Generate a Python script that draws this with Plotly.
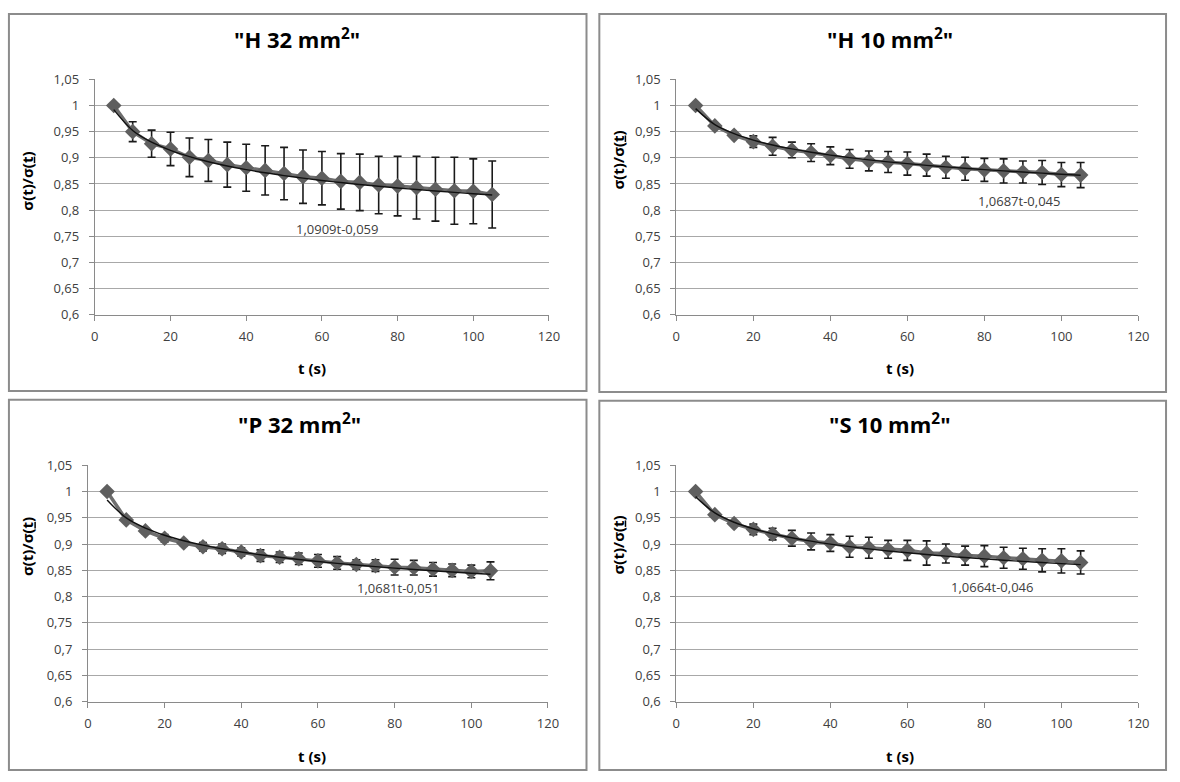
import plotly.graph_objects as go

# ---------------- data ----------------
t = [5, 10, 15, 20, 25, 30, 35, 40, 45, 50, 55, 60, 65, 70, 75, 80, 85, 90, 95, 100, 105]

h32_mean = [1.0, 0.950, 0.927, 0.917, 0.901, 0.895, 0.887, 0.881, 0.876, 0.870, 0.864,
            0.861, 0.855, 0.853, 0.848, 0.846, 0.843, 0.840, 0.837, 0.836, 0.830]
h32_err = [0.0, 0.019, 0.026, 0.032, 0.037, 0.040, 0.043, 0.045, 0.047, 0.050, 0.051,
           0.051, 0.053, 0.054, 0.055, 0.057, 0.060, 0.061, 0.064, 0.062, 0.064]

h10_mean = [1.0, 0.961, 0.943, 0.931, 0.922, 0.915, 0.910, 0.904, 0.898, 0.894, 0.892,
            0.889, 0.886, 0.882, 0.879, 0.877, 0.875, 0.873, 0.872, 0.868, 0.867]
h10_err = [0.0, 0.004, 0.005, 0.011, 0.017, 0.015, 0.017, 0.017, 0.018, 0.019, 0.020,
           0.022, 0.021, 0.021, 0.022, 0.022, 0.023, 0.021, 0.023, 0.023, 0.024]

p32_mean = [1.0, 0.946, 0.925, 0.911, 0.902, 0.895, 0.891, 0.885, 0.878, 0.875, 0.872,
            0.868, 0.864, 0.861, 0.859, 0.856, 0.855, 0.852, 0.850, 0.848, 0.849]
p32_err = [0.0, 0.004, 0.005, 0.007, 0.005, 0.008, 0.009, 0.008, 0.011, 0.010, 0.011,
           0.012, 0.012, 0.009, 0.011, 0.015, 0.014, 0.013, 0.012, 0.012, 0.017]

s10_mean = [1.0, 0.956, 0.939, 0.928, 0.919, 0.911, 0.905, 0.902, 0.895, 0.893, 0.890,
            0.888, 0.883, 0.882, 0.878, 0.877, 0.874, 0.872, 0.869, 0.868, 0.865]
s10_err = [0.0, 0.004, 0.005, 0.010, 0.011, 0.015, 0.016, 0.016, 0.020, 0.020, 0.017,
           0.019, 0.023, 0.018, 0.018, 0.020, 0.020, 0.020, 0.022, 0.023, 0.022]

titles = ['"H 32 mm<sup>2</sup>"', '"H 10 mm<sup>2</sup>"',
          '"P 32 mm<sup>2</sup>"', '"S 10 mm<sup>2</sup>"']

# power trendlines y = a * t^b (coefficients printed on the chart)
fit_a = [1.0909, 1.0687, 1.0681, 1.0664]
fit_b = [-0.059, -0.045, -0.051, -0.046]
fit_labels = ["1,0909t-0,059", "1,0687t-0,045", "1,0681t-0,051", "1,0664t-0,046"]
fit_label_x = [64, 89, 81, 82]
fit_label_y = [0.764, 0.817, 0.816, 0.819]

y_tickvals = [0.6, 0.65, 0.7, 0.75, 0.8, 0.85, 0.9, 0.95, 1.0, 1.05]
y_ticktext = ["0,6", "0,65", "0,7", "0,75", "0,8", "0,85", "0,9", "0,95", "1", "1,05"]
x_tickvals = [0, 20, 40, 60, 80, 100, 120]
x_ticktext = ["0", "20", "40", "60", "80", "100", "120"]

x_title = "t (s)"
y_title = "σ(t)/σ(<u>t</u>)"

means = [h32_mean, h10_mean, p32_mean, s10_mean]
errs = [h32_err, h10_err, p32_err, s10_err]

# ---------------- layout geometry (pixels) ----------------
W, H = 1180, 782
plot_px = [(92, 552, 72, 313), (681, 1149, 72, 313), (85, 551, 467, 709), (681, 1149, 467, 709)]
box_px = [(5, 590, 5, 391), (603, 1177, 5, 392), (5, 590, 400, 779), (603, 1177, 401, 779)]
title_px = [(297, 30), (897, 30), (299, 424), (897, 424)]
xtitle_px = [(312, 367), (908, 367), (312, 765), (908, 765)]
ytitle_px = [(23, 176), (622, 155), (24, 550), (622, 549)]

FONT = "Open Sans"
TXT = "#404040"


def px(x):
    return x / W


def py(y):
    return 1 - y / H


fig = go.Figure()
shapes = []
annotations = []

for i in range(4):
    sfx = "" if i == 0 else str(i + 1)
    xa, ya = "x" + sfx, "y" + sfx
    # data series with error bars
    fig.add_trace(go.Scatter(
        x=t, y=means[i], mode="lines+markers", xaxis=xa, yaxis=ya,
        line=dict(color="#6e6e6e", width=3.5),
        marker=dict(symbol="diamond", size=12, color="#5f5f5f"),
        error_y=dict(type="data", array=errs[i], visible=True, color="#1a1a1a",
                     thickness=1.6, width=4),
        showlegend=False, hoverinfo="x+y"))
    # power trendline
    fit_y = [fit_a[i] * tt ** fit_b[i] for tt in t]
    fig.add_trace(go.Scatter(
        x=t, y=fit_y, mode="lines", xaxis=xa, yaxis=ya,
        line=dict(color="#111111", width=1.4, shape="spline"),
        showlegend=False, hoverinfo="skip"))

    x0, x1, y0, y1 = plot_px[i]
    axis_common = dict(showline=True, linecolor="#8a8a8a", linewidth=1,
                       ticks="outside", ticklen=5, tickcolor="#8a8a8a",
                       tickfont=dict(family=FONT, size=13, color=TXT),
                       zeroline=False, fixedrange=True)
    fig.layout["xaxis" + sfx] = dict(
        domain=[px(x0), px(x1)], anchor=ya, range=[0, 120],
        tickvals=x_tickvals, ticktext=x_ticktext, showgrid=False,
        ticklabelstandoff=5, **axis_common)
    fig.layout["yaxis" + sfx] = dict(
        domain=[py(y1), py(y0)], anchor=xa, range=[0.6, 1.05],
        tickvals=y_tickvals, ticktext=y_ticktext, showgrid=True,
        gridcolor="#a8a8a8", gridwidth=1, ticklabelstandoff=7, **axis_common)

    bx0, bx1, by0, by1 = box_px[i]
    shapes.append(dict(type="rect", xref="paper", yref="paper",
                       x0=px(bx0), x1=px(bx1), y0=py(by1), y1=py(by0),
                       line=dict(color="#8c8c8c", width=2), layer="below"))

    tx, ty = title_px[i]
    annotations.append(dict(text="<b>" + titles[i] + "</b>", xref="paper", yref="paper",
                            x=px(tx), y=py(ty), showarrow=False, xanchor="center",
                            yanchor="middle",
                            font=dict(family=FONT, size=22, color="#000000")))
    xx, xy = xtitle_px[i]
    annotations.append(dict(text="<b>" + x_title + "</b>", xref="paper", yref="paper",
                            x=px(xx), y=py(xy), showarrow=False, xanchor="center",
                            yanchor="middle",
                            font=dict(family=FONT, size=15, color="#000000")))
    yx, yy = ytitle_px[i]
    annotations.append(dict(text="<b>" + y_title + "</b>", xref="paper", yref="paper",
                            x=px(yx), y=py(yy), showarrow=False, textangle=-90,
                            xanchor="center", yanchor="middle",
                            font=dict(family=FONT, size=15, color="#000000")))
    annotations.append(dict(text=fit_labels[i], xref=xa, yref=ya,
                            x=fit_label_x[i], y=fit_label_y[i], showarrow=False,
                            xanchor="center", yanchor="middle",
                            font=dict(family=FONT, size=13, color=TXT)))

fig.update_layout(width=W, height=H, margin=dict(l=0, r=0, t=0, b=0),
                  paper_bgcolor="white", plot_bgcolor="white",
                  shapes=shapes, annotations=annotations, showlegend=False)

fig.write_html("out.html", config={"displayModeBar": False},
               post_script="document.body.style.margin='0';"
                           "document.documentElement.style.overflow='hidden';")
